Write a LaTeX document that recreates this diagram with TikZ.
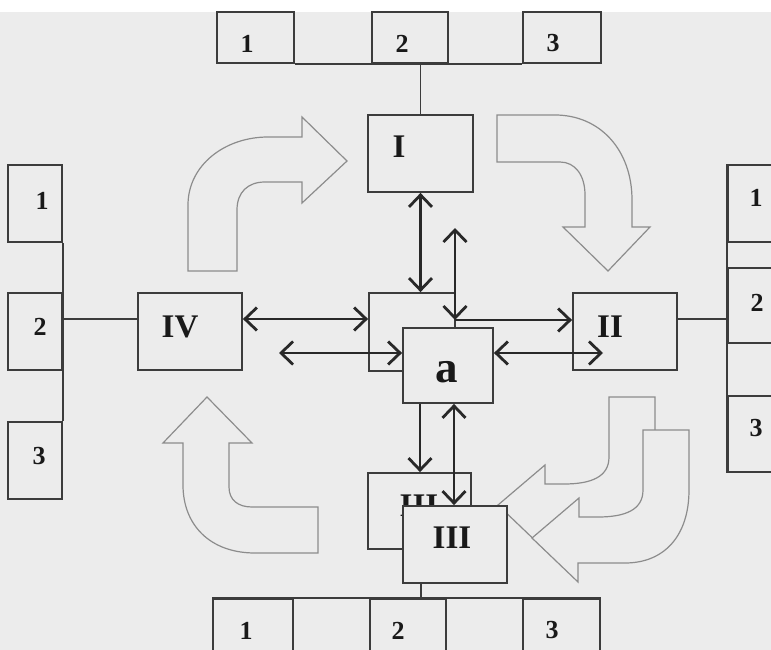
\documentclass[tikz,border=0pt]{standalone}
\usepackage{fontspec}
\setmainfont{Liberation Serif}
\usetikzlibrary{arrows.meta}
\definecolor{bgc}{RGB}{236,236,236}
\definecolor{boxline}{RGB}{60,60,60}
\definecolor{arrline}{RGB}{40,40,40}
\definecolor{bigline}{RGB}{140,140,140}
\begin{document}
\begin{tikzpicture}[x=1pt,y=-1pt,
  >={Straight Barb[length=12pt,width=23pt]},
  boxst/.style={draw=boxline,line width=1.8pt,fill=bgc,rectangle,inner sep=0pt},
  digit/.style={font=\fontsize{26}{26}\selectfont\bfseries,inner sep=0pt,text=black!90},
  roman/.style={font=\fontsize{33}{33}\selectfont\bfseries,inner sep=0pt,text=black!90},
  bigletter/.style={font=\fontsize{45}{45}\selectfont\bfseries,inner sep=0pt,text=black!90},
  conn/.style={draw=boxline,line width=1.8pt},
  link/.style={draw=arrline,line width=2.8pt},
  bigarrow/.style={draw=bigline,line width=1.2pt,fill=bgc,line join=miter}
]
\useasboundingbox (0,0) rectangle (771,650);
\path[fill=white] (0,0) rectangle (771,650);
\path[fill=bgc] (0,12) rectangle (771,650);
\clip (0,0) rectangle (771,650);

% big hollow arrows
\draw[bigarrow] (188,271) -- (188,205) .. controls (188,165) and (225,137) .. (268,137) -- (302,137) -- (302,117) -- (347,161) -- (302,203) -- (302,182) -- (265,182) .. controls (248,182) and (237,192) .. (237,210) -- (237,271) -- cycle;
\draw[bigarrow] (497,115) -- (555,115) .. controls (600,115) and (632,150) .. (632,200) -- (632,227) -- (650,227) -- (608,271) -- (563,227) -- (585,227) -- (585,195) .. controls (585,175) and (575,162) .. (560,162) -- (497,162) -- cycle;
\draw[bigarrow] (207,397) -- (252,443) -- (229,443) -- (229,487) .. controls (229,500) and (238,507) .. (252,507) -- (318,507) -- (318,553) -- (255,553) .. controls (210,553) and (183,525) .. (183,485) -- (183,443) -- (163,443) -- cycle;
\foreach \dx/\dy in {-34/-33, 0/0} {
  \draw[bigarrow, shift={(\dx,\dy)}] (643,430) -- (689,430) -- (689,490) .. controls (689,535) and (665,563) .. (625,563) -- (578,563) -- (578,582) -- (532,538) -- (579,498) -- (579,517) -- (598,517) .. controls (625,517) and (643,510) .. (643,490) -- cycle;
}

% top row
\node[boxst, minimum width=77pt, minimum height=51pt] (T1) at (255.5,37.5) {};
\node[boxst, minimum width=76pt, minimum height=51pt] (T2) at (410,37.5) {};
\node[boxst, minimum width=78pt, minimum height=51pt] (T3) at (562,37.5) {};
\draw[conn] (T1.south east) -- (T3.south west);
% I
\node[boxst, minimum width=105pt, minimum height=77pt] (I) at (420.5,153.5) {};
\draw[conn] (I.north) -- (I.north |- T2.south);
% left column
\node[boxst, minimum width=54pt, minimum height=77pt] (L1) at (35,203.5) {};
\node[boxst, minimum width=54pt, minimum height=77pt] (L2) at (35,331.5) {};
\node[boxst, minimum width=54pt, minimum height=77pt] (L3) at (35,460.5) {};
\draw[conn] (L1.south east) -- (L3.north east);
% IV
\node[boxst, minimum width=104pt, minimum height=77pt] (IV) at (190,331.5) {};
\draw[conn] ([yshift=12.5pt]L2.east) -- ([yshift=12.5pt]IV.west);
% centre
\node[boxst, minimum width=86pt, minimum height=78pt] (C) at (412,332) {};
\node[boxst, minimum width=90pt, minimum height=75pt] (a) at (448,365.5) {};
% II
\node[boxst, minimum width=104pt, minimum height=77pt] (II) at (625,331.5) {};
% right column
\node[boxst, minimum width=72pt, minimum height=77pt] (R1) at (764,203.5) {};
\node[boxst, minimum width=72pt, minimum height=75pt] (R2) at (764,305.5) {};
\node[boxst, minimum width=72pt, minimum height=76pt] (R3) at (764,434) {};
\draw[conn] (R1.north west) -- (R3.south west);
\draw[conn] ([yshift=12.5pt]II.east) -- ([yshift=12.5pt]II.east -| R1.west);
% III
\node[boxst, minimum width=103pt, minimum height=76pt] (IIIb) at (419.5,511) {};
\node[roman] (lIIIb) at (419,506) {III};
\node[boxst, minimum width=104pt, minimum height=77pt] (IIIf) at (455,544.5) {};
% bottom row
\node[boxst, minimum width=80pt, minimum height=61pt] (B1) at (253,629.5) {};
\node[boxst, minimum width=76pt, minimum height=61pt] (B2) at (408,629.5) {};
\node[boxst, minimum width=77pt, minimum height=61pt] (B3) at (561.5,629.5) {};
\draw[conn] (B1.north west) -- (B3.north east);
\draw[conn] ([xshift=-34pt]IIIf.south) -- ([xshift=-34pt]IIIf.south |- B1.north);

% labels
\node[digit] (lt1) at (247,44) {1};
\node[digit] (lt2) at (402,44) {2};
\node[digit] (lt3) at (553,43) {3};
\node[roman] (lI) at (399,147) {I};
\node[digit] (ll1) at (42,201) {1};
\node[digit] (ll2) at (40,327) {2};
\node[digit] (ll3) at (39,456) {3};
\node[roman] (lIV) at (180,327) {IV};
\node[roman] (lII) at (610,327) {II};
\node[bigletter] (la) at (447,372) {a};
\node[digit] (lr1) at (756,198) {1};
\node[digit] (lr2) at (757,303) {2};
\node[digit] (lr3) at (756,428) {3};
\node[roman] (lIIIf) at (452,538) {III};
\node[digit] (lb1) at (246,631) {1};
\node[digit] (lb2) at (398,631) {2};
\node[digit] (lb3) at (552,630) {3};

% connectors
\coordinate (j) at (455,320);
\coordinate (t2) at (455,228);
\coordinate (l5) at (279,353);
\coordinate (r6) at (603,353);
\draw[link,<->] (I.south) -- (I.south |- C.north);
\draw[link,<->] (t2) -- (j);
\draw[link,->] (j) -- (j -| II.west);
\draw[link,<->] ([yshift=12.5pt]IV.east) -- ([yshift=12.5pt]IV.east -| C.west);
\draw[link,<->] (l5) -- (l5 -| a.west);
\draw[link,<->] (a.east |- r6) -- (r6);
\draw[link,->] ([xshift=-28pt]a.south) -- ([xshift=-28pt]a.south |- IIIb.north);
\draw[link,<->] ([xshift=6pt]a.south) -- ([xshift=6pt]a.south |- IIIf.north);
\end{tikzpicture}
\end{document}
